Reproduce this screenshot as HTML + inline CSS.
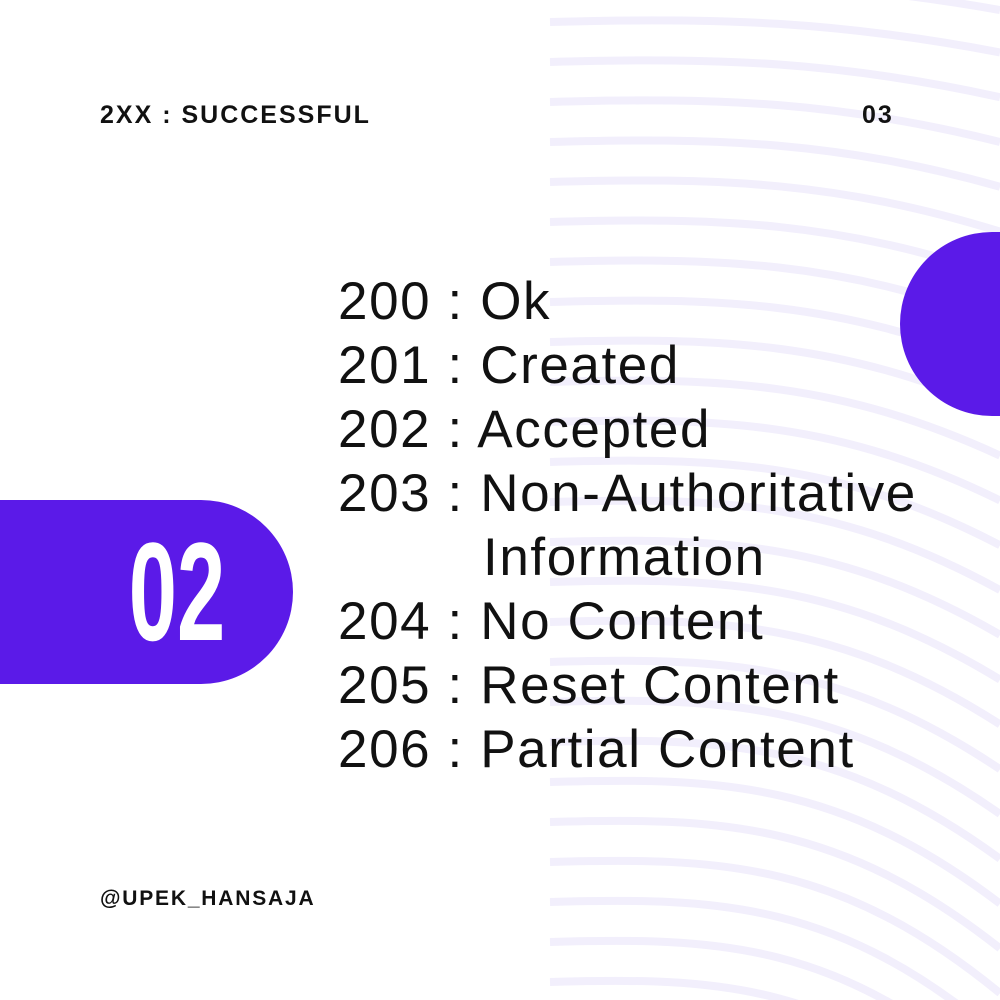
<!DOCTYPE html>
<html><head><meta charset="utf-8"><style>
html,body{margin:0;width:1000px;height:1000px;overflow:hidden}
body{background:#fff;position:relative;font-family:"Liberation Sans",sans-serif}
.h{position:absolute;font-weight:bold;color:#111}
.pill{position:absolute;left:0;top:500px;width:293px;height:184px;background:#5b1ae8;border-radius:0 92px 92px 0}
.num{position:absolute;left:104px;top:522px;width:130px;text-align:center;color:#fff;font-weight:bold;font-size:140px;line-height:140px;transform:scaleX(0.62);transform-origin:center}
.circ{position:absolute;left:900px;top:232px;width:100px;height:184px;border-radius:92px 0 0 92px;background:#5b1ae8}
.list{position:absolute;left:338px;top:0;width:662px;height:1000px;font-size:53px;color:#111;letter-spacing:1.6px;white-space:pre}
.list div{position:absolute;left:0;height:60px;line-height:60px}
</style></head><body>
<svg width="1000" height="1000" style="position:absolute;left:0;top:0">
<g fill="none" stroke="#f2effc" stroke-width="8" id="g"></g></svg>
<script>
var g=document.getElementById('g'),s='';
for(var y=-20;y<1100;y+=40){var k=30+Math.max(0,y)*0.12;
s+='<path d="M550 '+(y+2)+' C 720 '+(y-3)+', 840 '+(y+2)+', 1000 '+(y+k)+'"/>';}
g.innerHTML=s;
</script>
<div class="h" style="left:100px;top:101px;font-size:25px;letter-spacing:2px">2XX : SUCCESSFUL</div>
<div class="h" style="left:862px;top:101px;font-size:25px;letter-spacing:2px">03</div>
<div class="h" style="left:100px;top:887px;font-size:21px;letter-spacing:1.8px">@UPEK_HANSAJA</div>
<div class="circ"></div>
<div class="pill"></div>
<div class="num">02</div>
<div class="list">
<div style="top:272px">200 : Ok</div>
<div style="top:336px">201 : Created</div>
<div style="top:400px">202 : Accepted</div>
<div style="top:464px">203 : Non-Authoritative</div>
<div style="top:528px;left:145px">Information</div>
<div style="top:592px">204 : No Content</div>
<div style="top:656px">205 : Reset Content</div>
<div style="top:720px">206 : Partial Content</div>
</div>
</body></html>
